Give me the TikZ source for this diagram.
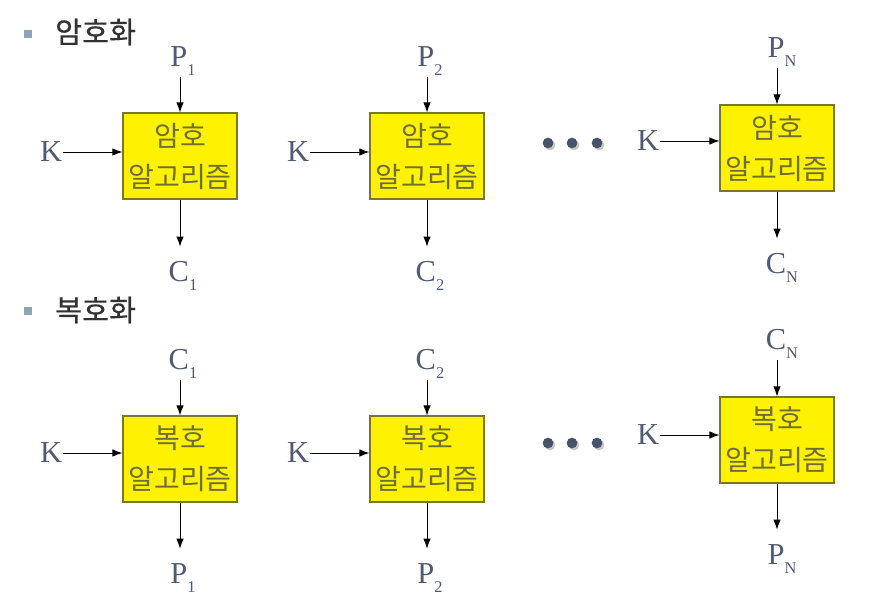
\documentclass[tikz,border=0pt]{standalone}
\usepackage{fontspec}
\setmainfont{Liberation Serif}
\newfontfamily\krfont{Noto Sans CJK KR}
\newfontfamily\krheadfont[FakeBold=0.5]{Noto Sans CJK KR}
\usetikzlibrary{arrows.meta}
\definecolor{labelgray}{RGB}{80,90,112}
\definecolor{boxline}{RGB}{120,120,40}
\definecolor{boxtext}{RGB}{110,110,50}
\definecolor{dotgray}{RGB}{72,82,104}
\definecolor{bulletblue}{RGB}{140,165,178}
\definecolor{titlegray}{RGB}{50,50,50}
\newcommand{\lowsub}[1]{\raisebox{-0.3em}{\fontsize{14}{14}\selectfont #1}}
\tikzset{
    algbox/.style={draw=boxline,fill=yellow,line width=0.9pt,minimum width=34.2mm,minimum height=25.8mm,
        inner sep=0pt,align=center,text=boxtext,font=\krfont\fontsize{24}{35}\selectfont},
    sym/.style={text=labelgray,inner sep=1pt,font=\fontsize{26}{26}\selectfont},
    heading/.style={anchor=west,text=titlegray,inner sep=0pt,font=\krheadfont\fontsize{25}{25}\selectfont},
    bullet/.style={fill=bulletblue,minimum size=2.4mm,inner sep=0pt},
    flow/.style={-{Latex[length=3mm,width=2.2mm]},line width=0.7pt},
    outflow/.style={flow,shorten >=4mm}
}
\begin{document}
\begin{tikzpicture}[x=0.3mm,y=-0.3mm]
    \useasboundingbox (0,0) rectangle (874,604);

    \node[bullet] (b1) at (28,34) {};
    \node[heading] (t1) at (55,32) {암호화};
    \node[bullet] (b2) at (28,311) {};
    \node[heading] (t2) at (55,310) {복호화};

    \node[algbox] (enc1) at (180,156) {암호\\알고리즘};
    \node[algbox] (enc2) at (427,156) {암호\\알고리즘};
    \node[algbox] (encn) at (777,148) {암호\\알고리즘};
    \node[algbox] (dec1) at (180,459) {복호\\알고리즘};
    \node[algbox] (dec2) at (427,459) {복호\\알고리즘};
    \node[algbox] (decn) at (777,440) {복호\\알고리즘};

    \node[sym] (p1) at (183,61) {P\lowsub{1}};
    \node[sym] (ke1) at (51,152) {K};
    \node[sym] (c1) at (183,276) {C\lowsub{1}};
    \node[sym] (p2) at (430,61) {P\lowsub{2}};
    \node[sym] (ke2) at (298,152) {K};
    \node[sym] (c2) at (430,276) {C\lowsub{2}};
    \node[sym] (pn) at (782,52) {P\lowsub{N}};
    \node[sym] (ken) at (648,141) {K};
    \node[sym] (cn) at (782,268) {C\lowsub{N}};

    \node[sym] (dc1) at (183,364) {C\lowsub{1}};
    \node[sym] (kd1) at (51,453) {K};
    \node[sym] (dp1) at (183,578) {P\lowsub{1}};
    \node[sym] (dc2) at (430,364) {C\lowsub{2}};
    \node[sym] (kd2) at (298,453) {K};
    \node[sym] (dp2) at (430,578) {P\lowsub{2}};
    \node[sym] (dcn) at (782,344) {C\lowsub{N}};
    \node[sym] (kdn) at (648,435) {K};
    \node[sym] (dpn) at (782,559) {P\lowsub{N}};

    \draw[flow] (enc1.north |- p1.south) -- (enc1.north);
    \draw[flow] (ke1.east) -- (ke1.east -| enc1.west);
    \draw[outflow] (enc1.south) -- (enc1.south |- c1.north);
    \draw[flow] (enc2.north |- p2.south) -- (enc2.north);
    \draw[flow] (ke2.east) -- (ke2.east -| enc2.west);
    \draw[outflow] (enc2.south) -- (enc2.south |- c2.north);
    \draw[flow] (encn.north |- pn.south) -- (encn.north);
    \draw[flow] (ken.east) -- (ken.east -| encn.west);
    \draw[outflow] (encn.south) -- (encn.south |- cn.north);

    \draw[flow] (dec1.north |- dc1.south) -- (dec1.north);
    \draw[flow] (kd1.east) -- (kd1.east -| dec1.west);
    \draw[outflow] (dec1.south) -- (dec1.south |- dp1.north);
    \draw[flow] (dec2.north |- dc2.south) -- (dec2.north);
    \draw[flow] (kd2.east) -- (kd2.east -| dec2.west);
    \draw[outflow] (dec2.south) -- (dec2.south |- dp2.north);
    \draw[flow] (decn.north |- dcn.south) -- (decn.north);
    \draw[flow] (kdn.east) -- (kdn.east -| decn.west);
    \draw[outflow] (decn.south) -- (decn.south |- dpn.north);

    \foreach \x in {548,572,597} {
        \fill[gray!45] (\x+2,145) circle (1.6mm);
        \fill[dotgray] (\x,143) circle (1.6mm);
        \fill[gray!45] (\x+2,445) circle (1.6mm);
        \fill[dotgray] (\x,443) circle (1.6mm);
    }
\end{tikzpicture}
\end{document}
